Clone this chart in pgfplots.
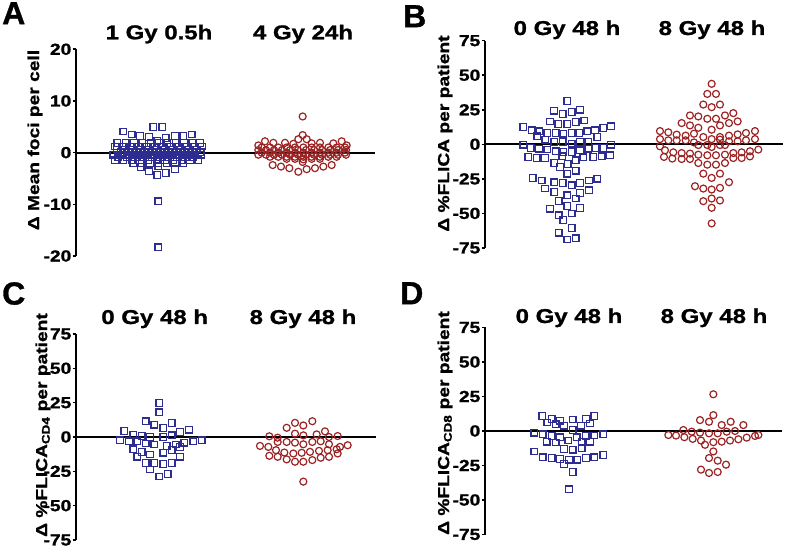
\documentclass[border=0pt]{standalone}
\usepackage{fontspec}
\setmainfont{Liberation Sans}[FakeStretch=1.2, BoldFeatures={FakeBold=1.2}]
\newfontfamily\letterfont{Liberation Sans}[BoldFeatures={FakeBold=1}]
\usepackage{pgfplots}
\pgfplotsset{compat=1.18}
\definecolor{myblue}{RGB}{45,45,145}
\definecolor{myred}{RGB}{155,35,35}
\pgfplotsset{
  panel/.style={scale only axis, anchor=south west,
    axis x line=none, xtick=\empty, axis y line=left,
    axis line style={-, line width=1.9pt, black},
    enlargelimits=false, clip=false,
    tick align=outside, major tick length=3.5pt,
    ytick style={line width=1.6pt, black},
    yticklabel style={font=\bfseries\fontsize{16}{16}\selectfont, inner sep=1pt},
    /pgf/number format/assume math mode=true},
  bsq/.style={only marks, mark=square, mark size=3.3pt, mark options={line width=1.2pt, draw=myblue, fill=none}},
  rci/.style={only marks, mark=o, mark size=3.5pt, mark options={line width=1.2pt, draw=myred, fill=none}},
}
\begin{document}
\begin{tikzpicture}[x=1pt,y=1pt]
\useasboundingbox (0,0) rectangle (787,549);
% ---------- Panel A ----------
\begin{axis}[panel, at={(76pt,293pt)}, width=299pt, height=206.7pt,
  xmin=228, xmax=1125, ymin=-20, ymax=20, ytick={-20,-10,0,10,20}]
\addplot[black, line width=1.9pt, forget plot] coordinates {(228,0) (1125,0)};
\addplot[bsq] coordinates {
(460,5.0)(487,5.0)(370,4.1)(395,3.5)(575,3.5)(420,3.2)(525,3.2)(550,3.2)(447,3.0)(497,2.8)(472,2.3)
(352,1.9)(377,1.9)(402,1.9)(427,1.9)(452,1.9)(477,1.9)(502,1.9)(527,1.9)(552,1.9)(577,1.9)(600,1.9)
(345,1.2)(368,1.2)(392,1.2)(416,1.2)(440,1.2)(464,1.2)(488,1.2)(512,1.2)(536,1.2)(560,1.2)(584,1.2)(606,1.2)
(350,0.6)(374,0.6)(398,0.6)(422,0.6)(446,0.6)(470,0.6)(494,0.6)(518,0.6)(542,0.6)(566,0.6)(590,0.6)
(362,0.1)(386,0.1)(410,0.1)(434,0.1)(458,0.1)(482,0.1)(506,0.1)(530,0.1)(554,0.1)(578,0.1)(602,0.1)
(340,-0.4)(364,-0.4)(388,-0.4)(412,-0.4)(436,-0.4)(460,-0.4)(484,-0.4)(508,-0.4)(532,-0.4)(556,-0.4)(580,-0.4)(604,-0.4)
(355,-0.9)(380,-0.9)(405,-0.9)(430,-0.9)(455,-0.9)(480,-0.9)(505,-0.9)(530,-0.9)(555,-0.9)(580,-0.9)
(345,-1.4)(370,-1.4)(395,-1.4)(420,-1.4)(445,-1.4)(470,-1.4)(495,-1.4)(520,-1.4)(545,-1.4)(570,-1.4)(595,-1.4)
(400,-2.1)(425,-2.1)(450,-2.1)(475,-2.1)(500,-2.1)(525,-2.1)(550,-2.1)
(422,-2.8)(475,-2.6)(525,-3.2)(447,-3.6)(497,-3.9)(472,-4.3)(475,-9.4)(475,-18.3)
};
\addplot[rci] coordinates {
(908,7.0)(908,3.4)(895,2.6)(920,2.6)(795,2.2)(1025,2.2)
(820,1.9)(855,1.9)(880,1.7)(935,1.8)(960,1.9)(1000,1.8)(775,1.4)(1040,1.4)
(785,1.0)(810,1.0)(835,1.0)(860,1.0)(885,1.0)(910,1.0)(935,1.0)(960,1.0)(985,1.0)(1010,1.0)(1035,1.0)
(775,0.5)(798,0.5)(822,0.5)(846,0.5)(870,0.5)(894,0.5)(918,0.5)(942,0.5)(966,0.5)(990,0.5)(1014,0.5)(1038,0.5)
(785,0.0)(810,0.0)(835,0.0)(860,0.0)(885,0.0)(910,0.0)(935,0.0)(960,0.0)(985,0.0)(1010,0.0)(1035,0.0)
(775,-0.4)(798,-0.4)(822,-0.4)(846,-0.4)(870,-0.4)(894,-0.4)(918,-0.4)(942,-0.4)(966,-0.4)(990,-0.4)(1014,-0.4)(1038,-0.4)
(810,-0.8)(835,-0.8)(860,-0.8)(885,-0.8)(910,-0.8)(935,-0.8)(960,-0.8)(985,-0.8)(1010,-0.8)
(860,-1.2)(885,-1.2)(910,-1.3)(935,-1.2)(960,-1.2)(908,-1.8)
(818,-2.4)(995,-2.4)(843,-2.7)(970,-2.7)(868,-3.0)(945,-3.0)(920,-3.2)(895,-3.7)
};
\end{axis}
% ---------- Panel B ----------
\begin{axis}[panel, at={(485pt,301pt)}, width=298.3pt, height=207.3pt,
  xmin=285, xmax=1180, ymin=-75, ymax=75, ytick={-75,-50,-25,0,25,50,75}]
\addplot[black, line width=1.9pt, forget plot] coordinates {(285,0) (1180,0)};
\addplot[bsq] coordinates {
(532,31.5)(492,24.3)(518,22.1)(545,23.3)(570,25.0)(480,16.6)(505,14.7)(532,14.7)(557,16.1)(583,17.3)
(400,12.5)(425,10.1)(448,9.4)(472,8.2)(497,8.2)(520,7.7)(545,8.2)(568,8.2)(592,9.4)(615,10.1)(640,11.8)(663,13.0)
(442,5.8)(622,5.3)(466,3.4)(493,1.7)(518,1.7)(545,0.5)(570,1.7)(595,1.7)(400,-0.2)(663,-0.2)
(422,-2.6)(447,-3.1)(472,-3.8)(497,-5.0)(520,-5.5)(545,-5.5)(570,-4.3)(595,-3.1)(617,-2.6)(640,-2.6)
(415,-9.1)(440,-9.9)(465,-9.9)(517,-8.7)(580,-9.4)(610,-9.1)(635,-8.7)(660,-7.9)
(493,-13.5)(533,-14.2)(557,-11.5)(510,-16.3)(532,-21.2)(557,-19.0)
(428,-24.3)(455,-26.2)(493,-27.4)(518,-27.9)(545,-29.6)(570,-27.9)(597,-26.2)(622,-24.8)
(465,-32.0)(493,-34.6)(532,-36.8)(557,-39.2)(570,-35.3)(597,-33.2)(506,-40.9)
(480,-46.6)(532,-44.7)(570,-46.2)(506,-51.4)(520,-54.8)(545,-50.0)
(506,-64.0)(545,-60.6)(532,-68.8)(557,-68.0)
};
\addplot[rci] coordinates {
(965,43.8)(952,36.5)(978,36.5)(940,28.8)(965,26.9)(990,28.8)
(900,20.9)(925,20.2)(952,18.5)(978,18.5)(1005,20.9)(1030,22.6)
(875,15.4)(900,13.7)(925,12.0)(965,10.6)(990,13.7)(1017,15.4)(1043,16.6)
(810,9.6)(835,8.7)(860,7.0)(887,6.3)(912,7.7)(940,5.3)(990,5.3)(1017,6.3)(1043,7.2)(1068,8.2)(1095,9.6)
(810,3.8)(835,2.9)(860,2.9)(887,2.9)(912,1.4)(965,3.8)(990,3.4)(1017,2.2)(1043,2.2)(1068,2.9)(1095,3.8)
(810,-1.4)(925,-0.5)(952,-0.5)(965,-1.9)(990,-0.5)(1005,-0.5)
(825,-4.3)(850,-5.8)(875,-6.3)(900,-6.7)(925,-7.5)(952,-7.9)(978,-7.9)(1005,-7.5)(1030,-6.3)(1055,-5.8)(1080,-5.0)(1105,-3.8)
(822,-9.1)(847,-10.3)(875,-10.6)(900,-10.6)(1030,-9.9)(1055,-9.9)(1080,-8.7)
(925,-13.5)(952,-14.7)(978,-14.7)(1005,-13.5)(940,-21.2)(965,-24.3)(990,-21.2)
(915,-30.3)(940,-32.0)(965,-32.7)(990,-31.5)(1017,-27.4)
(940,-41.1)(965,-39.2)(990,-40.6)(965,-45.9)(965,-57.2)
};
\end{axis}
% ---------- Panel C ----------
\begin{axis}[panel, at={(76pt,9pt)}, width=300pt, height=206pt,
  xmin=228, xmax=1128, ymin=-75, ymax=75, ytick={-75,-50,-25,0,25,50,75}]
\addplot[black, line width=1.9pt, forget plot] coordinates {(228,0) (1128,0)};
\addplot[bsq] coordinates {
(478,24.8)(478,18.0)(437,11.5)(463,8.9)(490,6.7)(515,10.1)
(373,4.3)(400,1.7)(425,0.7)(450,0.0)(490,0.0)(515,1.2)(540,3.6)(567,5.3)
(360,-2.4)(387,-3.1)(412,-3.1)(437,-4.8)(463,-5.5)(500,-6.5)(527,-5.5)(553,-4.1)(580,-3.1)(605,-2.4)
(400,-8.9)(425,-10.8)(450,-12.7)(490,-11.5)(515,-9.6)(540,-7.2)
(412,-14.4)(437,-18.8)(463,-18.8)(490,-19.7)(515,-18.8)(540,-14.4)
(450,-23.6)(478,-28.8)(503,-26.9)
};
\addplot[rci] coordinates {
(937,11.5)(885,10.3)(910,8.4)(860,6.7)(975,4.1)
(885,2.4)(910,1.2)(950,1.9)(808,0.5)(833,-0.5)(987,0.0)(1013,0.7)
(780,-6.5)(805,-7.2)(833,-3.6)(860,-3.6)(885,-4.1)(910,-5.3)(937,-3.6)(962,-3.1)(987,-5.3)(1020,-7.2)(1043,-6.0)
(828,-9.6)(853,-11.3)(880,-12.0)(905,-11.5)(930,-10.8)(957,-10.1)(983,-9.6)(1010,-8.9)
(808,-13.7)(833,-14.4)(860,-16.3)(885,-18.0)(910,-18.0)(937,-16.8)(962,-15.1)(987,-14.4)(1013,-12.0)
(910,-32.5)
};
\end{axis}
% ---------- Panel D ----------
\begin{axis}[panel, at={(485pt,14.5pt)}, width=296.7pt, height=207pt,
  xmin=285, xmax=1175, ymin=-75, ymax=75, ytick={-75,-50,-25,0,25,50,75}]
\addplot[black, line width=1.9pt, forget plot] coordinates {(285,0) (1175,0)};
\addplot[bsq] coordinates {
(457,11.0)(485,8.6)(510,7.4)(548,8.4)(588,8.6)(613,11.0)
(472,6.2)(497,4.8)(522,3.8)(573,3.8)(600,5.5)(548,0.7)
(433,-1.2)(458,-2.4)(485,-3.6)(510,-4.5)(560,-4.5)(587,-3.6)(613,-3.3)(640,-2.4)
(470,-7.7)(497,-8.4)(535,-6.9)(575,-8.1)(600,-7.7)
(522,-13.0)(548,-13.6)(575,-12.4)
(433,-14.8)(458,-19.1)(485,-19.6)(510,-20.3)(537,-20.8)(562,-20.8)(588,-19.6)(613,-19.1)(640,-17.5)
(522,-23.9)(548,-29.7)(537,-42.3)
};
\addplot[rci] coordinates {
(970,26.6)(970,11.5)(930,7.9)(957,6.7)(995,4.3)(1022,6.7)(1060,4.3)
(880,0.7)(905,-0.5)(930,-1.2)(957,-1.7)(983,-1.7)(1010,-0.5)(1035,0.0)
(835,-2.9)(858,-3.3)(883,-4.5)(908,-5.7)(933,-6.9)(945,-10.0)(970,-8.1)(995,-7.7)(1020,-6.9)(1045,-6.0)(1070,-4.8)(1095,-3.6)(1105,-2.9)
(970,-14.8)(957,-19.6)(983,-21.5)(1008,-24.4)(933,-28.0)(957,-30.4)(983,-29.7)
};
\end{axis}
% ---------- Texts ----------
\tikzset{lett/.style={anchor=north west, inner sep=0pt, font=\letterfont\bfseries\fontsize{32}{32}\selectfont},
  ttl/.style={anchor=base, inner sep=0pt, font=\bfseries\fontsize{20}{24}\selectfont},
  ylab/.style={anchor=center, rotate=90, inner sep=0pt, font=\bfseries\fontsize{16}{19}\selectfont}}
\node[lett] at (2,547) {A};
\node[lett] at (403,544) {B};
\node[lett] at (2,267) {C};
\node[lett] at (400,267) {D};
\node[ttl] at (159,509.7) {1 Gy 0.5h};
\node[ttl] at (303,509.7) {4 Gy 24h};
\node[ttl] at (567,514) {0 Gy 48 h};
\node[ttl] at (712,514) {8 Gy 48 h};
\node[ttl] at (154.7,225) {0 Gy 48 h};
\node[ttl] at (303,225) {8 Gy 48 h};
\node[ttl] at (569,226) {0 Gy 48 h};
\node[ttl] at (714,226) {8 Gy 48 h};
\node[ylab] at (35,409) {Δ Mean foci per cell};
\node[ylab] at (445,415.5) {Δ \%FLICA per patient};
\node[ylab] at (43,124) {Δ \%FLICA\textsubscript{CD4} per patient};
\node[ylab] at (445,126) {Δ \%FLICA\textsubscript{CD8} per patient};
\end{tikzpicture}
\end{document}
